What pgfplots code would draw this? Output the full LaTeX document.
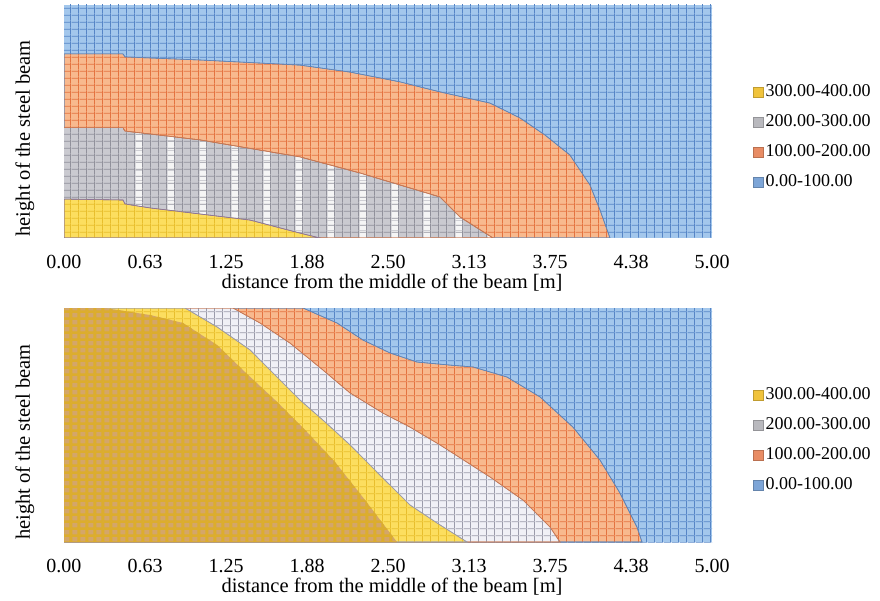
\documentclass[border=0pt]{standalone}
\usepackage{pgfplots}
\pgfplotsset{compat=1.18}
\usepackage{fontspec}
\setmainfont{Liberation Serif}
\usetikzlibrary{patterns}

\definecolor{blueF}{RGB}{163,199,236}
\definecolor{blueG}{RGB}{86,133,198}
\definecolor{orangeF}{RGB}{248,185,142}
\definecolor{orangeG}{RGB}{228,115,64}
\definecolor{grayF}{RGB}{202,202,208}
\definecolor{grayG}{RGB}{145,145,155}
\definecolor{lgrayF}{RGB}{240,240,246}
\definecolor{lgrayG}{RGB}{155,155,170}
\definecolor{yellowF}{RGB}{252,222,95}
\definecolor{yellowG}{RGB}{232,190,45}
\definecolor{goldF}{RGB}{212,166,105}
\definecolor{goldG}{RGB}{220,173,45}
\definecolor{legY}{RGB}{240,195,60}
\definecolor{legG}{RGB}{185,185,190}
\definecolor{legO}{RGB}{232,140,100}
\definecolor{legB}{RGB}{125,165,215}

% grid patterns (cell 8.1pt x 7.28pt for panel a, 8.1pt x 7.3125pt for panel b)
\pgfdeclarepatternformonly{gridA}{\pgfpoint{0pt}{0pt}}{\pgfpoint{8.1pt}{7.28125pt}}{\pgfpoint{8.1pt}{7.28125pt}}{%
  \pgfsetlinewidth{0.9pt}%
  \pgfpathmoveto{\pgfpoint{7.3pt}{0pt}}\pgfpathlineto{\pgfpoint{7.3pt}{7.28125pt}}%
  \pgfpathmoveto{\pgfpoint{0pt}{5.22pt}}\pgfpathlineto{\pgfpoint{8.1pt}{5.22pt}}%
  \pgfusepath{stroke}}
\pgfdeclarepatternformonly{stripesA}{\pgfpoint{0pt}{0pt}}{\pgfpoint{32.4pt}{10pt}}{\pgfpoint{32.4pt}{10pt}}{%
  \pgfpathrectangle{\pgfpoint{7.75pt}{0pt}}{\pgfpoint{7.2pt}{10pt}}%
  \pgfusepath{fill}}
\pgfdeclarepatternformonly{gridB}{\pgfpoint{0pt}{0pt}}{\pgfpoint{8.1pt}{7.3125pt}}{\pgfpoint{8.1pt}{7.3125pt}}{%
  \pgfsetlinewidth{0.9pt}%
  \pgfpathmoveto{\pgfpoint{7.3pt}{0pt}}\pgfpathlineto{\pgfpoint{7.3pt}{7.3125pt}}%
  \pgfpathmoveto{\pgfpoint{0pt}{6.8125pt}}\pgfpathlineto{\pgfpoint{8.1pt}{6.8125pt}}%
  \pgfusepath{stroke}}
\pgfdeclarepatternformonly{gridBthick}{\pgfpoint{0pt}{0pt}}{\pgfpoint{8.1pt}{7.3125pt}}{\pgfpoint{8.1pt}{7.3125pt}}{%
  \pgfsetlinewidth{2.6pt}%
  \pgfpathmoveto{\pgfpoint{7.3pt}{0pt}}\pgfpathlineto{\pgfpoint{7.3pt}{7.3125pt}}%
  \pgfpathmoveto{\pgfpoint{-0.8pt}{0pt}}\pgfpathlineto{\pgfpoint{-0.8pt}{7.3125pt}}%
  \pgfpathmoveto{\pgfpoint{0pt}{6.8125pt}}\pgfpathlineto{\pgfpoint{8.1pt}{6.8125pt}}%
  \pgfpathmoveto{\pgfpoint{0pt}{-0.5pt}}\pgfpathlineto{\pgfpoint{8.1pt}{-0.5pt}}%
  \pgfusepath{stroke}}

\pgfplotsset{
  beam/.style={
    scale only axis, width=648pt,
    xmin=0, xmax=5, ymin=0, ymax=1,
    axis line style={draw=none},
    major tick length=0pt,
    ytick=\empty,
    xtick={0,0.625,1.25,1.875,2.5,3.125,3.75,4.375,5},
    xticklabels={0.00,0.63,1.25,1.88,2.50,3.13,3.75,4.38,5.00},
    /pgf/number format/assume math mode=true,
    xticklabel style={font=\fontsize{20}{24}\selectfont, anchor=center, yshift=-24pt},
    xlabel={distance from the middle of the beam [m]},
    every axis x label/.style={at={(axis description cs:0.5,0)}, anchor=center, yshift=-45pt, xshift=4pt, font=\fontsize{20.5}{24}\selectfont},
    ylabel={height of the steel beam},
    every axis y label/.style={at={(axis description cs:-0.0602,0.427)}, rotate=90, anchor=center, font=\fontsize{20.5}{24}\selectfont},
    legend image code/.code={\draw[#1] (0pt,-5pt) rectangle (10pt,5pt);},
    legend cell align=left,
    legend style={at={(1.0586,0.434)}, anchor=west, draw=none, fill=none,
      font=\fontsize{18}{20}\selectfont,
      nodes={inner sep=2pt, text height=13pt, text depth=4pt},
      row sep=9pt},
  },
}

\begin{document}
\begin{tikzpicture}
\path[use as bounding box] (0,0) rectangle (880pt,600pt);

% ---------------- panel a ----------------
\begin{axis}[beam, height=233pt, at={(64pt,362pt)}, anchor=south west]
\addplot[forget plot, fill=blueF, draw=none, postaction={pattern=gridA, pattern color=blueG}]
  coordinates {(0,0)(5,0)(5,1)(0,1)} -- cycle;
\addplot[forget plot, fill=orangeF, draw=blueG!80!gray, line width=0.6pt, postaction={pattern=gridA, pattern color=orangeG}]
  coordinates {(0,0)(0,0.790)(0.455,0.790)(0.471,0.777)(1.049,0.764)(1.821,0.742)(2.207,0.712)(2.593,0.670)(2.901,0.627)(3.287,0.579)(3.519,0.515)(3.711,0.442)(3.904,0.356)(4.059,0.227)(4.136,0.120)(4.213,0)} -- cycle;
\addplot[forget plot, fill=grayF, draw=orangeG!70!gray, line width=0.6pt,
  postaction={pattern=stripesA, pattern color=white!92!gray},
  postaction={pattern=gridA, pattern color=grayG}]
  coordinates {(0,0)(0,0.472)(0.455,0.472)(0.471,0.459)(1.049,0.421)(1.821,0.348)(2.284,0.279)(2.901,0.176)(3.056,0.090)(3.310,0)} -- cycle;
\addplot[forget plot, fill=grayF, draw=none, postaction={pattern=gridA, pattern color=grayG}]
  coordinates {(0,0)(0,0.470)(0.453,0.470)(0.453,0)} -- cycle;
\addplot[forget plot, fill=yellowF, draw=grayG!80!violet, line width=0.6pt, postaction={pattern=gridA, pattern color=yellowG}]
  coordinates {(0,0)(0,0.167)(0.455,0.163)(0.471,0.146)(0.664,0.129)(1.435,0.077)(1.821,0.021)(1.975,0)} -- cycle;
\addlegendimage{fill=legY, draw=legY!80!black}
\addlegendentry{300.00-400.00}
\addlegendimage{fill=legG, draw=legG!80!black}
\addlegendentry{200.00-300.00}
\addlegendimage{fill=legO, draw=legO!80!black}
\addlegendentry{100.00-200.00}
\addlegendimage{fill=legB, draw=legB!80!black}
\addlegendentry{0.00-100.00}
\node[font=\fontsize{20.5}{24}\selectfont, anchor=center] at (rel axis cs:-0.074,0.906) {a)};
\end{axis}

% ---------------- panel b ----------------
\begin{axis}[beam, height=234pt, at={(64pt,58pt)}, anchor=south west]
\addplot[forget plot, fill=blueF, draw=none, postaction={pattern=gridB, pattern color=blueG}]
  coordinates {(0,0)(5,0)(5,1)(0,1)} -- cycle;
\addplot[forget plot, fill=orangeF, draw=blueG!80!gray, line width=0.6pt, postaction={pattern=gridB, pattern color=orangeG}]
  coordinates {(0,0)(0,1)(1.844,1)(2.106,0.936)(2.307,0.863)(2.515,0.808)(2.724,0.769)(2.978,0.756)(3.156,0.748)(3.418,0.705)(3.673,0.620)(3.927,0.491)(4.136,0.350)(4.290,0.209)(4.421,0.064)(4.460,0)} -- cycle;
\addplot[forget plot, fill=lgrayF, draw=orangeG!70!gray, line width=0.6pt, postaction={pattern=gridB, pattern color=lgrayG}]
  coordinates {(0,0)(0,1)(1.304,1)(1.512,0.936)(1.744,0.850)(1.998,0.735)(2.207,0.637)(2.461,0.551)(2.670,0.491)(2.901,0.415)(3.287,0.278)(3.542,0.179)(3.750,0.064)(3.827,0)} -- cycle;
\addplot[forget plot, fill=yellowF, draw=lgrayG, line width=0.6pt, postaction={pattern=gridB, pattern color=yellowG}]
  coordinates {(0,0)(0,1)(0.934,1)(1.181,0.919)(1.435,0.821)(1.644,0.705)(1.821,0.607)(2.014,0.513)(2.207,0.415)(2.438,0.286)(2.670,0.158)(2.901,0.073)(3.110,0)} -- cycle;
\addplot[forget plot, fill=goldF, draw=none, postaction={pattern=gridBthick, pattern color=goldG}]
  coordinates {(0,0)(0,1)(0.316,1)(0.664,0.970)(0.918,0.936)(1.181,0.842)(1.397,0.726)(1.628,0.607)(1.860,0.479)(2.091,0.342)(2.323,0.179)(2.569,0)} -- cycle;
\addlegendimage{fill=legY, draw=legY!80!black}
\addlegendentry{300.00-400.00}
\addlegendimage{fill=legG, draw=legG!80!black}
\addlegendentry{200.00-300.00}
\addlegendimage{fill=legO, draw=legO!80!black}
\addlegendentry{100.00-200.00}
\addlegendimage{fill=legB, draw=legB!80!black}
\addlegendentry{0.00-100.00}
\node[font=\fontsize{20.5}{24}\selectfont, anchor=center] at (rel axis cs:-0.074,0.915) {b)};
\end{axis}
\end{tikzpicture}
\end{document}
